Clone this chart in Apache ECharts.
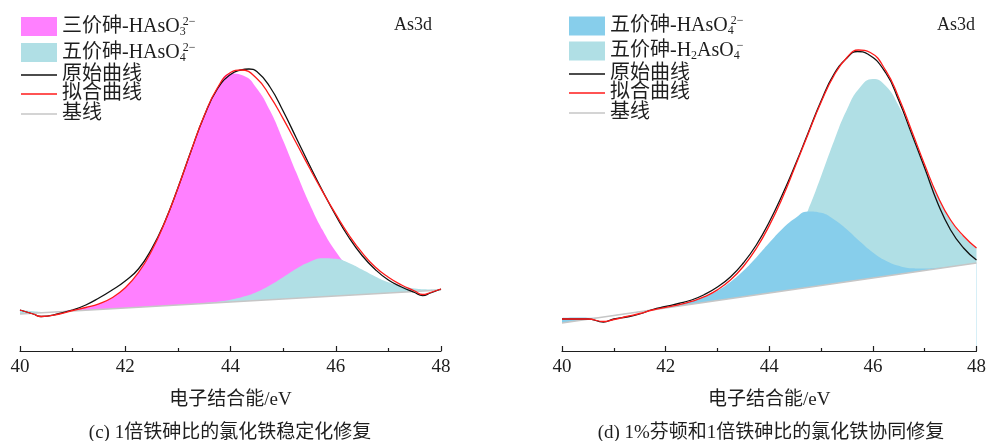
<!DOCTYPE html>
<html>
<head>
<meta charset="utf-8">
<title>As3d XPS</title>
<script src="https://cdn.jsdelivr.net/npm/echarts@6/dist/echarts.min.js"></script>
<style>
  html, body { margin: 0; padding: 0; background: #ffffff; width: 989px; height: 441px; overflow: hidden; }
  #panelC { position: absolute; left: 0; top: 0; width: 494px; height: 441px; }
  #panelD { position: absolute; left: 494px; top: 0; width: 495px; height: 441px; }
</style>
</head>
<body>
<div id="panelC"></div>
<div id="panelD"></div>
<script>
// ---- shared binding-energy grid (eV) used by the fitted component peaks ----
const energyGrid = [40, 40.25, 40.5, 40.75, 41, 41.25, 41.5, 41.75, 42, 42.25, 42.5, 42.75, 43, 43.25, 43.5, 43.75,
  44, 44.25, 44.5, 44.75, 45, 45.25, 45.5, 45.75, 46, 46.25, 46.5, 46.75, 47, 47.25, 47.5, 47.75, 48];
const energyTicks = [40, 42, 44, 46, 48];
const baselineEnergy = [40, 48];

// ---- panel (c): 1x Fe/As ratio FeCl3 stabilisation (intensity, a.u.) ----
const baselineC = [37, 61];
const as3PeakC = [37, 37.9, 38.6, 39.5, 41.3, 43.5, 47.2, 53.3, 63.2, 78.3, 100, 128.6, 162.8, 199.8, 234.8, 262.5,
  277.6, 275.2, 262.5, 240.4, 210.6, 178.5, 147.6, 120.9, 99.6, 83.9, 73.3, 66.8, 63.1, 61.3, 60.7, 60.8, 61.2];
const as5PeakC = [41, 39.8, 39, 39.3, 40, 40.8, 41.5, 42.3, 43, 43.8, 44.5, 45.3, 46, 46.9, 47.9, 49.2,
  51.2, 54.4, 59.1, 65.8, 73.8, 82.3, 89.1, 92.8, 92.2, 88, 81.5, 74.6, 68.7, 64.8, 62.5, 61.6, 61.5];
const rawEnergyC = [40, 40.25, 40.4, 40.75, 41, 41.25, 41.5, 41.75, 42, 42.25, 42.5, 42.75, 43, 43.25, 43.5, 43.75,
  44, 44.2, 44.35, 44.5, 44.75, 45, 45.25, 45.5, 45.75, 46, 46.25, 46.5, 46.75, 47, 47.25, 47.5, 47.65, 47.8, 48];
const rawC = [41, 37, 34.5, 37.5, 41, 46, 53, 61, 70, 82, 102, 129, 163, 200, 235, 262,
  276.5, 281, 282, 279.5, 264, 240, 213, 186, 160, 135.5, 113.5, 95.5, 81.5, 71, 64, 58.5, 55.5, 58, 62];
const fitEnergyC = [40, 40.25, 40.4, 40.75, 41, 41.25, 41.5, 41.75, 42, 42.25, 42.5, 42.75, 43, 43.25, 43.5, 43.75,
  44, 44.2, 44.5, 44.75, 45, 45.25, 45.5, 45.75, 46, 46.25, 46.5, 46.75, 47, 47.25, 47.5, 47.65, 47.8, 48];
const fitC = [41, 37, 34.5, 37, 40.5, 43.5, 47.2, 53.3, 63.2, 78.3, 100, 128.6, 162.8, 199.9, 235.2, 263,
  278.5, 281, 272.5, 254.9, 232.4, 208, 183.2, 159.4, 136.8, 116, 98.3, 84, 73.8, 66, 60, 56.5, 58.5, 62];

// ---- panel (d): 1% Fenton + 1x Fe/As ratio FeCl3 (intensity, a.u.) ----
const baselineD = [28, 88];
const hAsO4PeakD = [33, 33.4, 33.3, 33.6, 35.5, 37.4, 39.4, 41.3, 43.6, 46.2, 49.5, 54, 60.3, 69, 80.2, 93.6,
  108.2, 122.1, 132.8, 139.6, 138.2, 131.5, 121.5, 109.5, 98.6, 90.3, 85.2, 82.7, 82.4, 83.2, 84.6, 86.2, 88];
const h2AsO4PeakD = [28, 29.9, 31.8, 33.6, 35.5, 37.4, 39.3, 41.1, 43, 44.9, 46.9, 48.9, 51.3, 54.3, 58.6, 65,
  75.2, 90.5, 112.4, 140.9, 174.7, 210, 241.6, 263.6, 272, 265, 244.9, 216, 184.4, 155, 131.3, 114.2, 103.5];
const rawEnergyD = [40, 40.25, 40.5, 40.8, 41, 41.25, 41.5, 41.75, 42, 42.25, 42.5, 42.75, 43, 43.25, 43.5, 43.75,
  44, 44.25, 44.5, 44.75, 45, 45.25, 45.5, 45.7, 45.9, 46.25, 46.5, 46.75, 47, 47.25, 47.5, 47.75, 48];
const rawD = [32, 32, 32, 29, 32, 34, 37, 41.5, 44.5, 47.5, 51, 56.5, 64, 74, 88, 106,
  129, 156, 186, 218, 250, 277, 293, 299.5, 297, 278, 250.5, 217, 183, 148, 121, 103, 91];
const fitEnergyD = [40, 40.25, 40.5, 40.8, 41, 41.25, 41.5, 41.75, 42, 42.25, 42.5, 42.75, 43, 43.25, 43.5, 43.75,
  44, 44.25, 44.5, 44.75, 45, 45.25, 45.5, 45.72, 45.95, 46.25, 46.5, 46.75, 47, 47.25, 47.5, 47.75, 48];
const fitD = [32, 32, 32, 29.5, 31.5, 34.5, 37.5, 41, 43.6, 46.2, 49.6, 54.3, 61.1, 70.9, 84.5, 102.5,
  125.4, 152.7, 184.4, 217.1, 248.8, 275.5, 293.5, 301, 298.5, 280.3, 253.3, 220.1, 186.3, 155, 131, 115, 103];

const FONT = '"Liberation Serif", "Times New Roman", "Noto Sans CJK SC", serif';
const INK = '#1e1e1e';
const RAW_COLOR = '#111111';
const FIT_COLOR = '#ff1a1a';
const BASE_COLOR = '#c6c6c6';

function pairs(xs, ys) { return xs.map((x, i) => [x, ys[i]]); }

const richStyles = {
  n:  { fontFamily: FONT, fontSize: 20, lineHeight: 22, color: INK },
  lo: { fontFamily: FONT, fontSize: 12, lineHeight: 12, color: INK, verticalAlign: 'bottom' },
  sb: { fontFamily: FONT, fontSize: 12, lineHeight: 12, color: INK, verticalAlign: 'bottom', width: 3 },
  sp: { fontFamily: FONT, fontSize: 12, lineHeight: 12, color: INK, verticalAlign: 'top' }
};

function legendItem(name, richLabel, color, left, top, isLine) {
  return {
    data: [{ name: name, icon: 'rect', itemStyle: { color: color, borderWidth: 0 } }],
    left: left, top: top, padding: 0, orient: 'vertical',
    itemWidth: 36, itemHeight: isLine ? 1.5 : 19, itemGap: 0,
    selectedMode: false,
    itemStyle: { borderWidth: 0 },
    formatter: () => richLabel,
    textStyle: { fontFamily: FONT, fontSize: 20, color: INK, rich: richStyles }
  };
}

// cfg.fills are listed in drawing order (later ones on top); cfg.legendOrder gives legend rows
function buildPanel(el, cfg) {
  const chart = echarts.init(el, null, { renderer: 'canvas' });
  const series = [];
  cfg.fills.forEach(f => {
    series.push({
      name: f.name, type: 'line', data: pairs(energyGrid, f.values),
      symbol: 'none', smooth: 0.5, color: f.color,
      lineStyle: { width: 0 }, areaStyle: { color: f.color, opacity: 1, origin: 'start' },
      z: 2, silent: true, animation: false
    });
  });
  // linear background; its white underside keeps the peaks above the baseline
  series.push({
    name: '基线', type: 'line', data: pairs(baselineEnergy, cfg.baseline),
    symbol: 'none', color: BASE_COLOR,
    lineStyle: { color: BASE_COLOR, width: 1.5 },
    areaStyle: { color: '#ffffff', opacity: 1, origin: 'start' },
    z: 3, silent: true, animation: false
  });
  series.push({
    name: '原始曲线', type: 'line', data: pairs(cfg.rawEnergy, cfg.raw),
    symbol: 'none', smooth: 0.5, color: RAW_COLOR,
    lineStyle: { color: RAW_COLOR, width: 1.3 }, z: 4, silent: true, animation: false
  });
  series.push({
    name: '拟合曲线', type: 'line', data: pairs(cfg.fitEnergy, cfg.fit),
    symbol: 'none', smooth: 0.5, color: FIT_COLOR,
    lineStyle: { color: FIT_COLOR, width: 1.3 }, z: 5, silent: true, animation: false
  });

  const L = cfg.legendLeft;
  const T = cfg.legendTops;
  const legends = cfg.legendOrder.map((idx, row) => {
    const f = cfg.fills[idx];
    return legendItem(f.name, f.label, f.color, L, T[row], false);
  }).concat([
    legendItem('原始曲线', '{n|原始曲线}', RAW_COLOR, L, T[2], true),
    legendItem('拟合曲线', '{n|拟合曲线}', FIT_COLOR, L, T[3], true),
    legendItem('基线', '{n|基线}', BASE_COLOR, L, T[4], true)
  ]);

  chart.setOption({
    animation: false,
    backgroundColor: '#ffffff',
    grid: { left: cfg.gridLeft, right: cfg.gridRight, top: 0, bottom: 90, containLabel: false },
    xAxis: {
      type: 'value', min: energyTicks[0], max: energyTicks[energyTicks.length - 1],
      interval: energyTicks[1] - energyTicks[0], z: 10,
      axisLine: { show: true, onZero: false, lineStyle: { color: INK, width: 1.2 } },
      axisTick: { show: true, inside: true, length: 5, lineStyle: { color: INK, width: 1.2 } },
      minorTick: { show: true, splitNumber: 2, length: 3, lineStyle: { color: INK, width: 1.2 } },
      splitLine: { show: false },
      axisLabel: { margin: 7, fontFamily: FONT, fontSize: 19, color: INK },
      name: '电子结合能/eV', nameLocation: 'middle', nameGap: 40,
      nameTextStyle: { fontFamily: FONT, fontSize: 19, color: INK }
    },
    yAxis: { type: 'value', min: 0, max: 351, show: false },
    legend: legends,
    graphic: [
      { type: 'text', x: cfg.tagX, y: 25, silent: true,
        style: { text: 'As3d', font: '18px ' + FONT, fill: INK, textAlign: 'center', textVerticalAlign: 'middle' } },
      { type: 'text', x: cfg.captionX, y: 433, silent: true,
        style: { text: cfg.caption, font: '19px ' + FONT, fill: INK, textAlign: 'center', textVerticalAlign: 'middle' } }
    ],
    series: series
  });
  return chart;
}

buildPanel(document.getElementById('panelC'), {
  gridLeft: 20, gridRight: 53,
  legendLeft: 21, legendTops: [15.5, 41.5, 65, 84, 104],
  tagX: 413, captionX: 230,
  caption: '(c) 1倍铁砷比的氯化铁稳定化修复',
  baseline: baselineC,
  fills: [
    { name: '三价砷-HAsO₃²⁻', label: '{n|三价砷-HAsO}{sb|3}{sp|2−}', color: '#ff80ff', values: as3PeakC },
    { name: '五价砷-HAsO₄²⁻', label: '{n|五价砷-HAsO}{sb|4}{sp|2−}', color: '#b0dfe5', values: as5PeakC }
  ],
  legendOrder: [0, 1],
  rawEnergy: rawEnergyC, raw: rawC, fitEnergy: fitEnergyC, fit: fitC
});

buildPanel(document.getElementById('panelD'), {
  gridLeft: 68, gridRight: 7,
  legendLeft: 75, legendTops: [15, 40, 64, 83, 103],
  tagX: 462, captionX: 277,
  caption: '(d) 1%芬顿和1倍铁砷比的氯化铁协同修复',
  baseline: baselineD,
  fills: [
    { name: '五价砷-H₂AsO₄⁻', label: '{n|五价砷-H}{lo|2}{n|AsO}{sb|4}{sp|−}', color: '#b0dfe5', values: h2AsO4PeakD },
    { name: '五价砷-HAsO₄²⁻', label: '{n|五价砷-HAsO}{sb|4}{sp|2−}', color: '#87ceeb', values: hAsO4PeakD }
  ],
  legendOrder: [1, 0],
  rawEnergy: rawEnergyD, raw: rawD, fitEnergy: fitEnergyD, fit: fitD
});
</script>
</body>
</html>
